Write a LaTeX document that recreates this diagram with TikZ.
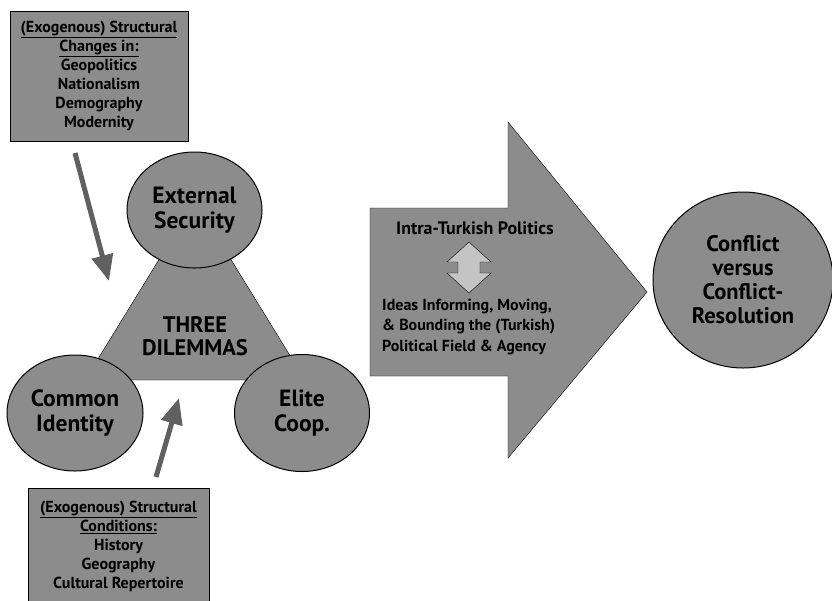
\documentclass[tikz,border=0pt]{standalone}
\usepackage{fontspec}
\setmainfont{PT Sans}
\usetikzlibrary{arrows.meta}
\usetikzlibrary{shapes.geometric}
\definecolor{fillgray}{RGB}{140,140,140}
\definecolor{arrowgray}{RGB}{96,96,96}
\definecolor{palegray}{RGB}{196,196,196}

\begin{document}
\begin{tikzpicture} [x=1pt, y=-1pt,
  dilemma/.style={ellipse, draw, line width=1pt, fill=fillgray, inner sep=0, align=center, font=\bfseries\fontsize{23.5}{24.5}\selectfont},
  exobox/.style={rectangle, draw, line width=1pt, fill=fillgray, inner sep=0, align=center, font=\bfseries\fontsize{16}{19}\selectfont},
  push/.style={arrowgray, line width=5pt, -{Triangle[length=26pt, width=21pt]}}]
\clip (0,0) rectangle (832,600);
\fill[white] (0,0) rectangle (832,600);
% big arrow
\draw[fill=fillgray] (370,208) -- (508,208) -- (508,122) -- (647,292) -- (508,458) -- (508,376) -- (370,376) -- cycle;
\node[font=\bfseries\fontsize{18}{20}\selectfont] (intra) at (475,228) {Intra-Turkish Politics};
\draw[fill=palegray] (469,242) -- (491,262) -- (480,262) -- (480,273) -- (491,273) -- (469,293) -- (447,273) -- (458,273) -- (458,262) -- (447,262) -- cycle;
\node[anchor=west, align=left, inner sep=0, font=\bfseries\fontsize{16}{20.5}\selectfont] (ideas) at (382,327)
  {Ideas Informing, Moving,\\ \& Bounding the (Turkish)\\ Political Field \& Agency};
% triangle and dilemmas
\draw[fill=fillgray] (85,380) -- (195,201) -- (305,380) -- cycle;
\node[align=center, font=\bfseries\fontsize{22.5}{23}\selectfont] (three) at (195,336) {THREE\\ DILEMMAS};
\node[dilemma, minimum width=135pt, minimum height=116pt] (security) at (194.5,210) {External\\ Security};
\node[dilemma, minimum width=136pt, minimum height=116pt] (identity) at (75,413) {Common\\ Identity};
\node[dilemma, minimum width=135pt, minimum height=117pt] (elite) at (302,413) {Elite\\ Coop.};
\node[dilemma, minimum width=180pt, minimum height=176pt, font=\bfseries\fontsize{22.5}{24}\selectfont] (conflict) at (743,280) {Conflict\\ versus\\ Conflict-\\ Resolution};
% exogenous boxes
\node[exobox, minimum width=178pt, minimum height=130pt] (changes) at (99,76)
  {\underline{(Exogenous) Structural}\\ \underline{Changes in:}\\ Geopolitics\\ Nationalism\\ Demography\\ Modernity};
\node[exobox, minimum width=181pt, minimum height=115pt] (conditions) at (118.5,546)
  {\underline{(Exogenous) Structural}\\ \underline{Conditions:}\\ History\\ Geography\\ Cultural Repertoire};
\coordinate (chgfoot) at (75,153);
\coordinate (chgtip) at (109,281);
\coordinate (cndfoot) at (156,477);
\coordinate (cndtip) at (179,398);
\draw[push] (chgfoot) -- (chgtip);
\draw[push] (cndfoot) -- (cndtip);
\end{tikzpicture}
\end{document}
